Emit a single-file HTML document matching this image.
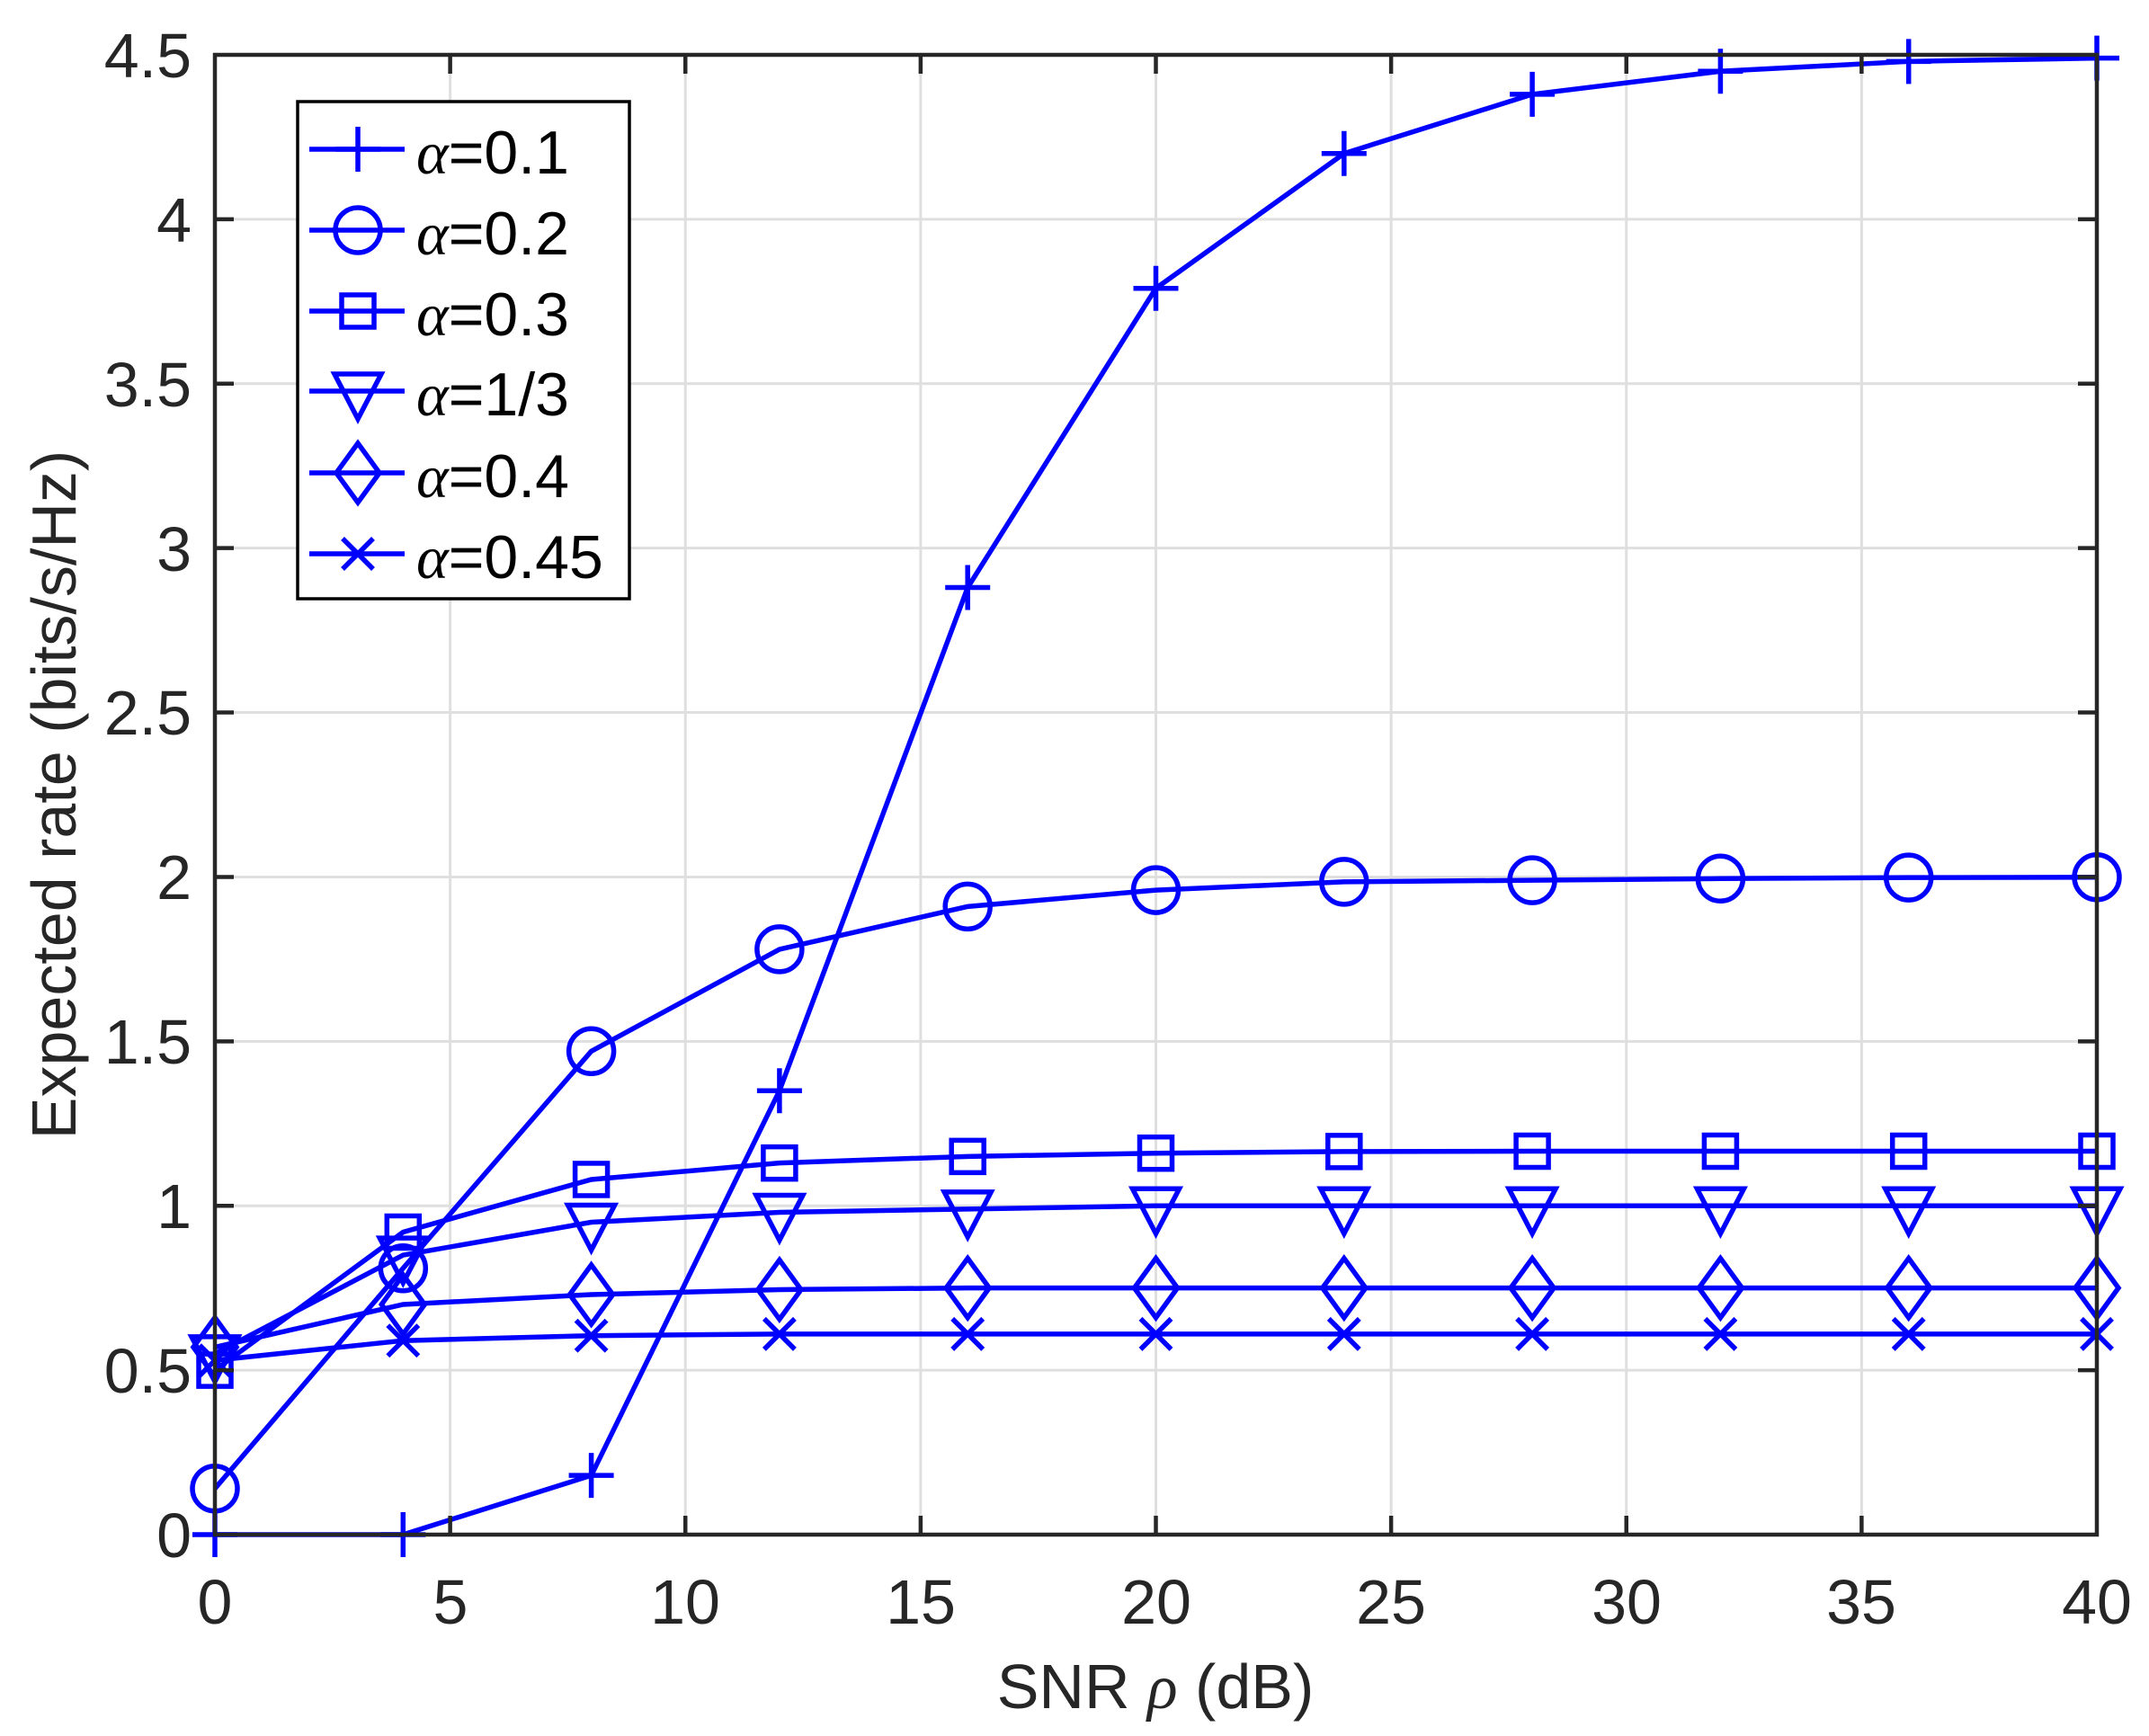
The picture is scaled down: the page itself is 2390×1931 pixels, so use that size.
<!DOCTYPE html>
<html><head><meta charset="utf-8"><style>
html,body{margin:0;padding:0;background:#fff;}
svg{display:block;}
text{font-family:"Liberation Sans",sans-serif;fill:#262626;}
</style></head><body>
<svg id="s" width="2390" height="1931" viewBox="0 0 2390 1931" xmlns="http://www.w3.org/2000/svg">
<rect width="2390" height="1931" fill="#fff"/>
<g id="grid" stroke="#dfdfdf" stroke-width="3"></g>
<g id="series" fill="none" stroke="#0000ff" stroke-width="5.5"></g>
<rect x="239" y="61" width="2093" height="1646" fill="none" stroke="#262626" stroke-width="4.5"/>
<g id="ticks" stroke="#262626" stroke-width="4.5"></g>
<g font-size="70" text-anchor="end">
<text x="213" y="1732">0</text>
<text x="213" y="1549">0.5</text>
<text x="213" y="1366">1</text>
<text x="213" y="1183">1.5</text>
<text x="213" y="1000">2</text>
<text x="213" y="817">2.5</text>
<text x="213" y="635">3</text>
<text x="213" y="452">3.5</text>
<text x="213" y="269">4</text>
<text x="213" y="86">4.5</text>
</g>
<g font-size="70" text-anchor="middle">
<text x="239" y="1806">0</text>
<text x="501" y="1806">5</text>
<text x="762" y="1806">10</text>
<text x="1024" y="1806">15</text>
<text x="1286" y="1806">20</text>
<text x="1547" y="1806">25</text>
<text x="1809" y="1806">30</text>
<text x="2070" y="1806">35</text>
<text x="2332" y="1806">40</text>
</g>
<text x="1285" y="1900" font-size="70" text-anchor="middle">SNR <tspan font-family="Liberation Serif" font-style="italic">ρ</tspan> (dB)</text>
<text transform="translate(84,884) rotate(-90)" font-size="70" text-anchor="middle">Expected rate (bits/s/Hz)</text>
<rect x="331" y="113" width="369" height="553" fill="#fff" stroke="#000" stroke-width="3.5"/>
<g id="leg" fill="none" stroke="#0000ff" stroke-width="5.5"></g>
<g font-size="68">
<text x="463" y="193" style="fill:#000"><tspan font-family="Liberation Serif" font-style="italic">α</tspan>=0.1</text>
<text x="463" y="283" style="fill:#000"><tspan font-family="Liberation Serif" font-style="italic">α</tspan>=0.2</text>
<text x="463" y="373" style="fill:#000"><tspan font-family="Liberation Serif" font-style="italic">α</tspan>=0.3</text>
<text x="463" y="462" style="fill:#000"><tspan font-family="Liberation Serif" font-style="italic">α</tspan>=1/3</text>
<text x="463" y="553" style="fill:#000"><tspan font-family="Liberation Serif" font-style="italic">α</tspan>=0.4</text>
<text x="463" y="643" style="fill:#000"><tspan font-family="Liberation Serif" font-style="italic">α</tspan>=0.45</text>
</g>
</svg>
<script>
var NS="http://www.w3.org/2000/svg";
function el(p,t,a){var e=document.createElementNS(NS,t);for(var k in a)e.setAttribute(k,a[k]);p.appendChild(e);return e;}
var L=239,R=2332,T=61,B=1707;
function X(v){return L+(R-L)*v/40;}function Y(v){return B-(B-T)*v/4.5;}
var g=document.getElementById('grid'),tk=document.getElementById('ticks');
for(var i=1;i<8;i++){var x=X(i*5);el(g,'line',{x1:x,x2:x,y1:T,y2:B});el(tk,'line',{x1:x,x2:x,y1:B,y2:B-21});el(tk,'line',{x1:x,x2:x,y1:T,y2:T+21});}
for(var j=1;j<9;j++){var y=Y(j*0.5);el(g,'line',{x1:L,x2:R,y1:y,y2:y});el(tk,'line',{x1:L,x2:L+21,y1:y,y2:y});el(tk,'line',{x1:R,x2:R-21,y1:y,y2:y});}
var D=[
['+',[0,0,0.18,1.35,2.88,3.79,4.2,4.38,4.45,4.48,4.49]],
['o',[0.14,0.81,1.47,1.78,1.91,1.96,1.985,1.99,1.995,1.998,1.999]],
['s',[0.5,0.92,1.08,1.13,1.15,1.16,1.165,1.166,1.166,1.166,1.166]],
['v',[0.55,0.85,0.95,0.98,0.99,1.0,1,1,1,1,1]],
['d',[0.57,0.7,0.73,0.745,0.75,0.75,0.75,0.75,0.75,0.75,0.75]],
['x',[0.53,0.59,0.605,0.61,0.61,0.61,0.61,0.61,0.61,0.61,0.61]]];
function mk(p,m,x,y){var r=25;
if(m=='+'){el(p,'path',{d:'M'+(x-r)+' '+y+'H'+(x+r)+'M'+x+' '+(y-r)+'V'+(y+r)});}
else if(m=='o'){el(p,'circle',{cx:x,cy:y,r:r});}
else if(m=='s'){el(p,'rect',{x:x-18,y:y-18,width:36,height:36});}
else if(m=='v'){el(p,'path',{d:'M'+(x-26)+' '+(y-19)+'H'+(x+26)+'L'+x+' '+(y+31)+'Z'});}
else if(m=='d'){el(p,'path',{d:'M'+x+' '+(y-33)+'L'+(x+24)+' '+y+'L'+x+' '+(y+33)+'L'+(x-24)+' '+y+'Z'});}
else {el(p,'path',{d:'M'+(x-17)+' '+(y-17)+'L'+(x+17)+' '+(y+17)+'M'+(x+17)+' '+(y-17)+'L'+(x-17)+' '+(y+17)});}}
var s=document.getElementById('series');
D.forEach(function(d){var pts=d[1].map(function(v,i){return X(i*4)+','+Y(v);}).join(' ');
el(s,'polyline',{points:pts});d[1].forEach(function(v,i){mk(s,d[0],X(i*4),Y(v));});});
var lg=document.getElementById('leg'),ys=[166,256,346,435,526,616];
D.forEach(function(d,i){el(lg,'line',{x1:344,x2:450,y1:ys[i],y2:ys[i]});mk(lg,d[0],398,ys[i]);});
</script>
</body></html>
